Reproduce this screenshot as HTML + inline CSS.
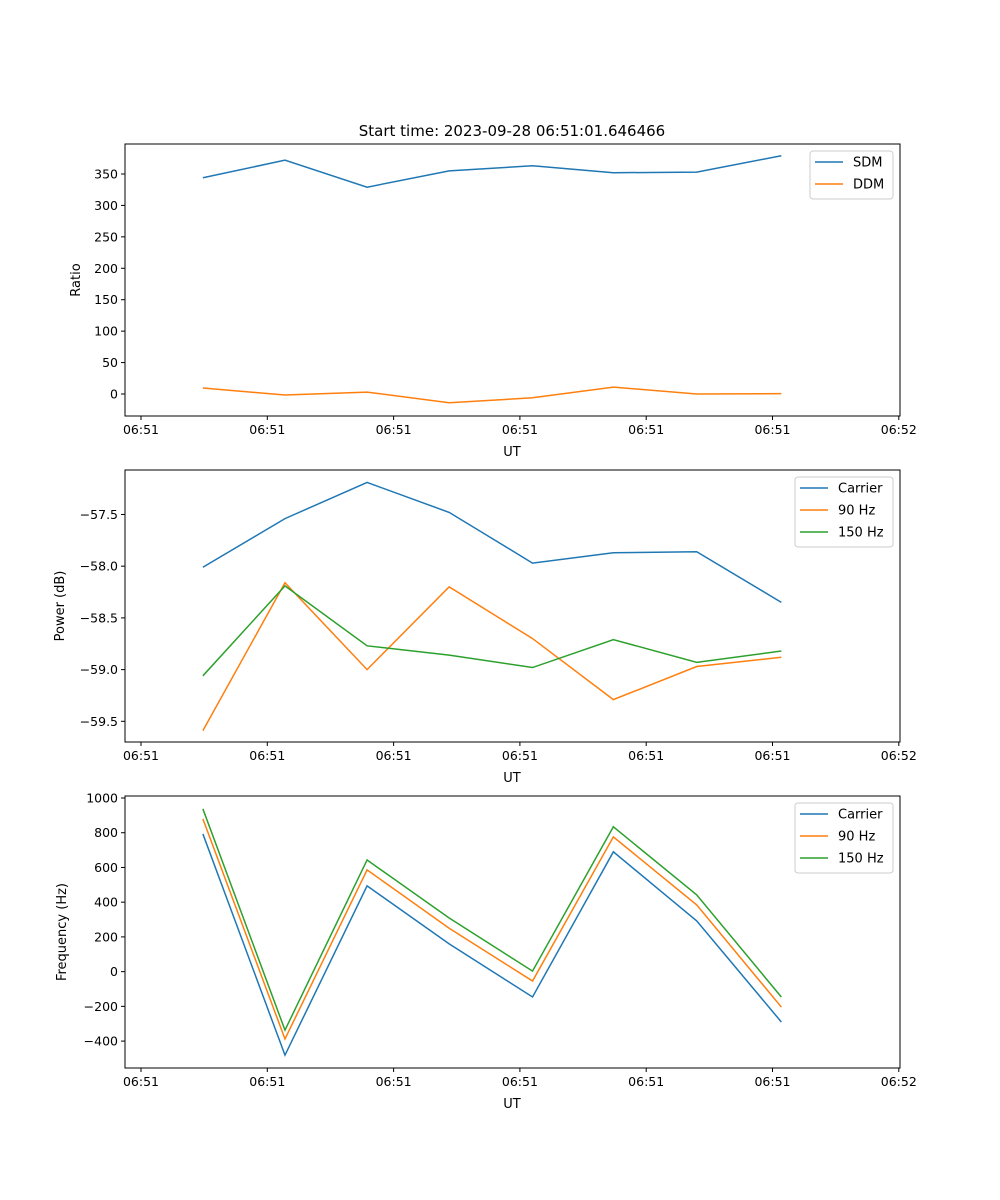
<!DOCTYPE html>
<html><head><meta charset="utf-8"><style>
body{margin:0;background:#fff}
svg{display:block;font-family:"DejaVu Sans","Liberation Sans",sans-serif}
</style></head><body>
<svg id="fig" width="1000" height="1200" viewBox="0 0 1000 1200">
<text x="512" y="136" font-size="15" text-anchor="middle">Start time: 2023-09-28 06:51:01.646466</text>
</svg>
<script>
const times = [0.49,1.14,1.79,2.44,3.10,3.74,4.40,5.07];
const xTickVals = [0,1,2,3,4,5,6];
const xTickLabels = ["06:51","06:51","06:51","06:51","06:51","06:51","06:52"];
const sdm = [344,372,329,355,363,352,353,379];
const ddm = [9.5,-1.6,3,-14,-6,11,0,0.5];
const ratioTicks = [0,50,100,150,200,250,300,350];
const pCarrier = [-58.01,-57.54,-57.19,-57.48,-57.97,-57.87,-57.86,-58.35];
const p90 = [-59.59,-58.16,-59.0,-58.20,-58.70,-59.29,-58.97,-58.88];
const p150 = [-59.06,-58.19,-58.77,-58.86,-58.98,-58.71,-58.93,-58.82];
const powerTicks = [-59.5,-59.0,-58.5,-58.0,-57.5];
const powerTickLabels = ["\u221259.5","\u221259.0","\u221258.5","\u221258.0","\u221257.5"];
const fCarrier = [793,-481,494,160,-146,690,292,-290];
const f90 = [880,-388,586,250,-54,776,384,-204];
const f150 = [937,-337,643,309,3,834,442,-146];
const freqTicks = [-400,-200,0,200,400,600,800,1000];
const freqTickLabels = ["\u2212400","\u2212200","0","200","400","600","800","1000"];

const NS="http://www.w3.org/2000/svg";
const svg=document.getElementById('fig');
function mk(tag,attrs,parent){const e=document.createElementNS(NS,tag);for(const k in attrs)e.setAttribute(k,attrs[k]);(parent||svg).appendChild(e);return e;}
const L=125,R=900;
const xScale=v=>141+v*126.3;
const C=['#1f77b4','#ff7f0e','#2ca02c'];

function panel(name,top,bottom,yMin,yMax,yTicks,yLabels,ylabel,ylabX,series,names,legend){
  const g=mk('g',{});
  
  
  const y=v=>bottom-(v-yMin)/(yMax-yMin)*(bottom-top);
  series.forEach((s,i)=>{
    const p=mk('polyline',{points:s.map((v,j)=>xScale(times[j])+','+y(v)).join(' '),fill:'none',stroke:C[i],'stroke-width':1.5},g);
    
    
  });
  const fr=mk('rect',{x:L,y:top,width:R-L,height:bottom-top,fill:'none',stroke:'#000','stroke-width':1},g);
  
  
  xTickVals.forEach((v,i)=>{
    const X=xScale(v);
    mk('line',{x1:X,x2:X,y1:bottom,y2:bottom+4,stroke:'#000'},g);
    const t=mk('text',{x:X,y:bottom+18,'font-size':12.5,'text-anchor':'middle'},g);
    t.textContent=xTickLabels[i];
    
    
  });
  const xl=mk('text',{x:512,y:bottom+40,'font-size':13,'text-anchor':'middle'},g);
  xl.textContent='UT';
  
  
  yTicks.forEach((v,i)=>{
    const Y=y(v);
    mk('line',{x1:L-4,x2:L,y1:Y,y2:Y,stroke:'#000'},g);
    const t=mk('text',{x:L-7,y:Y+4.5,'font-size':12.5,'text-anchor':'end'},g);
    t.textContent=yLabels[i];
    
    
  });
  const cy=(top+bottom)/2;
  const yl=mk('text',{x:ylabX,y:cy,'font-size':13,'text-anchor':'middle',transform:'rotate(-90 '+ylabX+' '+cy+')'},g);
  yl.textContent=ylabel;
  
  
  const lg=mk('g',{},g);
  
  
  mk('rect',{x:legend.x,y:top+7,width:legend.w,height:names.length*22+4,rx:3,fill:'#fff','fill-opacity':0.8,stroke:'#ccc'},lg);
  names.forEach((n,i)=>{
    const ly=top+18+i*22;
    mk('line',{x1:legend.x+5,x2:legend.x+33,y1:ly,y2:ly,stroke:C[i],'stroke-width':1.5},lg);
    const t=mk('text',{x:legend.x+43,y:ly+4.5,'font-size':13},lg);
    t.textContent=n;
    
    
  });
}
panel('ratio',144,416,-35,397.7,ratioTicks,ratioTicks.map(String),'Ratio',80,[sdm,ddm],['SDM','DDM'],{x:810,w:83});
panel('power',470,742,-59.70,-57.07,powerTicks,powerTickLabels,'Power (dB)',64,[pCarrier,p90,p150],['Carrier','90 Hz','150 Hz'],{x:795,w:98});
panel('frequency',796,1068,-555,1011.5,freqTicks,freqTickLabels,'Frequency (Hz)',66,[fCarrier,f90,f150],['Carrier','90 Hz','150 Hz'],{x:795,w:98});
</script>
</body></html>
